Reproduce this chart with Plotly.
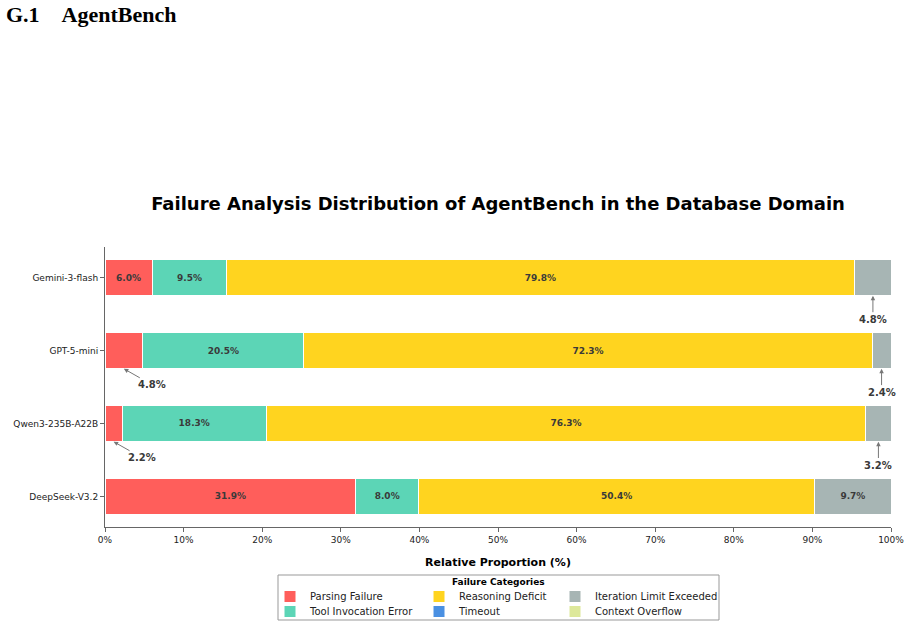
import plotly.graph_objects as go

models = ["Gemini-3-flash", "GPT-5-mini", "Qwen3-235B-A22B", "DeepSeek-V3.2"]
categories = ["Parsing Failure", "Tool Invocation Error", "Reasoning Deficit",
              "Timeout", "Iteration Limit Exceeded", "Context Overflow"]
parsing = [6.0, 4.8, 2.2, 31.9]
tool = [9.5, 20.5, 18.3, 8.0]
reasoning = [79.8, 72.3, 76.3, 50.4]
timeout = [0.0, 0.0, 0.0, 0.0]
iteration = [4.8, 2.4, 3.2, 9.7]
context = [0.0, 0.0, 0.0, 0.0]
series = [parsing, tool, reasoning, timeout, iteration, context]
colors = ["#FF5E5B", "#5CD5B6", "#FFD41F", "#4A90E2", "#A7B5B4", "#DDE89A"]
legend_of = ["legend", "legend2", "legend", "legend2", "legend", "legend2"]
legend_w = [104, 104, 91, 91, 130, 130]
xticks = [0, 10, 20, 30, 40, 50, 60, 70, 80, 90, 100]
xticktext = [f"{t}%" for t in xticks]

fig = go.Figure()
for name, vals, col, lg, lw in zip(categories, series, colors, legend_of, legend_w):
    fig.add_trace(go.Bar(
        y=models, x=vals, name=name, orientation="h", width=0.5,
        marker=dict(color=col, line=dict(color="white", width=1)),
        text=[f"{v:.1f}%" if v >= 5 else "" for v in vals],
        textposition="inside", insidetextanchor="middle",
        textfont=dict(family="DejaVu Sans", size=9, color="#3a3a3a", weight="bold"),
        legend=lg, legendwidth=lw, hoverinfo="skip",
    ))

annotations = []
for i, m in enumerate(models):
    start = 0.0
    for k, vals in enumerate(series):
        v = vals[i]
        if 0 < v < 5:
            c = start + v / 2
            if k == 0:
                ax, ay = c + 3.6, i + 0.25 + 0.22
            else:
                ax, ay = c, i + 0.25 + 0.32
            annotations.append(dict(
                x=c, y=i + 0.25, xref="x", yref="y", ax=ax, ay=ay, axref="x", ayref="y",
                text=f"<b>{v:.1f}%</b>", showarrow=True, arrowhead=2, arrowsize=0.9,
                arrowwidth=1, arrowcolor="#777777", standoff=0,
                font=dict(family="DejaVu Sans", size=10, color="#3a3a3a"),
            ))
        start += v

annotations.append(dict(
    text="<b>G.1&nbsp;&nbsp;&nbsp;&nbsp;AgentBench</b>", xref="paper", yref="paper",
    x=(4 - 105) / 786, y=(527 - 14) / 280, xanchor="left", yanchor="middle",
    showarrow=False, font=dict(family="Liberation Serif", size=22, color="black"),
))
annotations.append(dict(
    text="<b>Failure Categories</b>", xref="paper", yref="paper",
    x=0.5, y=(527 - 582) / 280, xanchor="center", yanchor="middle",
    showarrow=False, font=dict(family="DejaVu Sans", size=9, color="black"),
))

legend_common = dict(orientation="h", xanchor="left", yanchor="top", traceorder="normal",
                     bgcolor="rgba(0,0,0,0)", borderwidth=0,
                     font=dict(family="DejaVu Sans", size=10, color="#222"))

fig.update_layout(
    width=910, height=628,
    margin=dict(l=105, r=19, t=247, b=101, autoexpand=False),
    paper_bgcolor="white", plot_bgcolor="white",
    barmode="stack", bargap=0.5,
    title=dict(text="<b>Failure Analysis Distribution of AgentBench in the Database Domain</b>",
               x=(105 + 891) / 2 / 910, xanchor="center", xref="container",
               y=1 - 204 / 628, yanchor="middle", yref="container",
               font=dict(family="DejaVu Sans", size=18, color="black")),
    xaxis=dict(range=[0, 100], tickvals=xticks, ticktext=xticktext, showgrid=False,
               zeroline=False, showline=True, linecolor="#666", linewidth=1,
               ticks="outside", ticklen=4, tickcolor="#666",
               tickfont=dict(family="DejaVu Sans", size=9, color="#222"),
               title=dict(text="<b>Relative Proportion (%)</b>", standoff=14,
                          font=dict(family="DejaVu Sans", size=11, color="black"))),
    yaxis=dict(categoryorder="array", categoryarray=models, range=[3.42, -0.42],
               showgrid=False, zeroline=False, showline=True, linecolor="#666",
               linewidth=1, ticks="outside", ticklen=4, tickcolor="#666",
               tickfont=dict(family="DejaVu Sans", size=9, color="#222")),
    legend=dict(x=(270 - 105) / 786, y=(527 - 582) / 280, **legend_common),
    legend2=dict(x=(270 - 105) / 786, y=(527 - 597) / 280, **legend_common),
    annotations=annotations,
    shapes=[dict(type="rect", xref="paper", yref="paper",
                 x0=(278 - 105) / 786, x1=(719 - 105) / 786,
                 y0=(527 - 620) / 280, y1=(527 - 575) / 280,
                 line=dict(color="#999999", width=1), fillcolor="rgba(0,0,0,0)")],
    showlegend=True,
)

fig.write_html("out.html")
